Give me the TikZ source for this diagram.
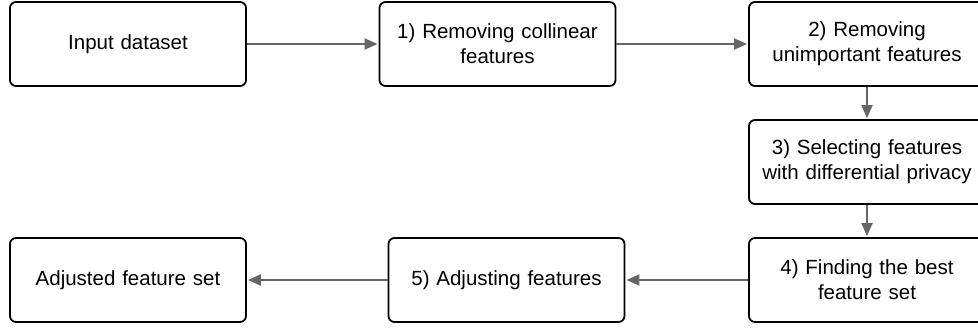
\documentclass[tikz,border=0pt]{standalone}
\usepackage{fontspec}
\setmainfont{Liberation Sans}
\usetikzlibrary{arrows.meta}
\begin{document}
\begin{tikzpicture}[x=1pt,y=-1pt,
  stepbox/.style={draw=black, line width=1.8pt, rounded corners=6pt, fill=white,
    minimum width=236pt, minimum height=84pt, inner sep=0pt, align=center,
    text width=228pt, font=\fontsize{20.5}{25}\selectfont},
  conn/.style={draw=black!60, line width=2pt, -{Triangle[length=13pt,width=11pt]}, shorten >=1pt}]
\useasboundingbox (0,0) rectangle (978,329);
\clip (0,0) rectangle (978,329);
\node[stepbox] (in) at (128,44) {Input dataset};
\node[stepbox] (b1) at (497.5,44) {1) Removing collinear\\features};
\node[stepbox] (b2) at (867,44) {2) Removing\\unimportant features};
\node[stepbox] (b3) at (867,162) {3) Selecting features\\with differential privacy};
\node[stepbox] (b4) at (867,280) {4) Finding the best\\feature set};
\node[stepbox] (b5) at (506.5,280) {5) Adjusting features};
\node[stepbox] (out) at (128,280) {Adjusted feature set};
\draw[conn] (in) -- (b1);
\draw[conn] (b1) -- (b2);
\draw[conn] (b2) -- (b3);
\draw[conn] (b3) -- (b4);
\draw[conn] (b4) -- (b5);
\draw[conn] (b5) -- (out);
\end{tikzpicture}
\end{document}
